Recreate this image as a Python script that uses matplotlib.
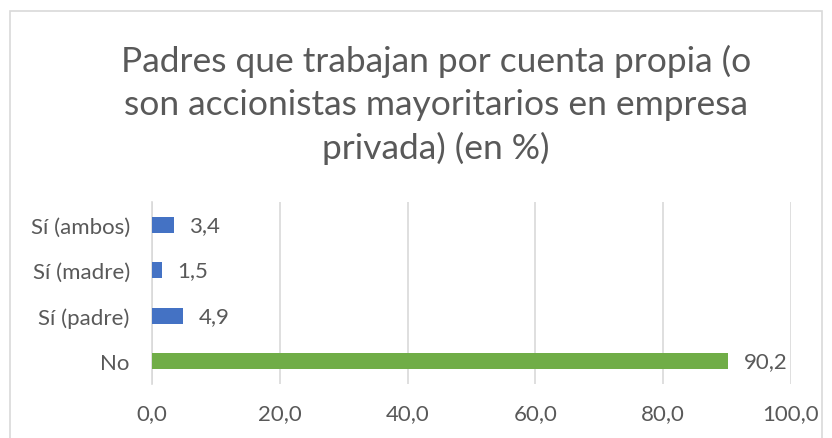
import matplotlib
matplotlib.use('Agg')
import matplotlib.pyplot as plt
from matplotlib.patches import Rectangle

# Data
categorias = ['No', 'Sí (padre)', 'Sí (madre)', 'Sí (ambos)']
valores = [90.2, 4.9, 1.5, 3.4]
colores = ['#70AD47', '#4472C4', '#4472C4', '#4472C4']
ticks_x = [0, 20, 40, 60, 80, 100]
titulo = 'Padres que trabajan por cuenta propia (o\nson accionistas mayoritarios en empresa\nprivada) (en %)'

plt.rcParams['font.family'] = ['Lato', 'DejaVu Sans']
texto = '#595959'

fig = plt.figure(figsize=(8.32, 4.39), dpi=100)
fig.patch.set_facecolor('white')

# chart area border
W, H = 832, 439
fig.add_artist(Rectangle((10 / W, -0.01), 812 / W, (H - 12) / H + 0.01,
                         transform=fig.transFigure, fill=False,
                         edgecolor='#D9D9D9', linewidth=1.2))

ax = fig.add_axes([152 / W, 1 - 385 / H, (791 - 152) / W, (385 - 203) / H])
y = list(range(len(categorias)))
ax.barh(y, valores, height=0.36, color=colores, zorder=3)

for yi, v in zip(y, valores):
    ax.annotate('{:.1f}'.format(v).replace('.', ','), xy=(v, yi),
                xytext=(11, 0), textcoords='offset points',
                va='center', ha='left', fontsize=16, color=texto)

ax.set_xlim(0, 100)
ax.set_ylim(-0.5, 3.5)
ax.set_xticks(ticks_x)
ax.set_xticklabels(['{:.1f}'.format(t).replace('.', ',') for t in ticks_x])
ax.set_yticks(y)
ax.set_yticklabels(categorias)
ax.tick_params(axis='both', length=0, labelsize=16, labelcolor=texto)
ax.tick_params(axis='x', pad=14)
ax.tick_params(axis='y', pad=16)
ax.grid(axis='x', color='#D9D9D9', linewidth=1.2, zorder=0)
for s in ['top', 'right', 'bottom']:
    ax.spines[s].set_visible(False)
ax.spines['left'].set_color('#D9D9D9')
ax.spines['left'].set_linewidth(1.2)

fig.text(436 / W, 1 - 105 / H, titulo, ha='center', va='center',
         fontsize=25.5, color=texto, linespacing=1.42)

fig.savefig('out.png', dpi=100)
